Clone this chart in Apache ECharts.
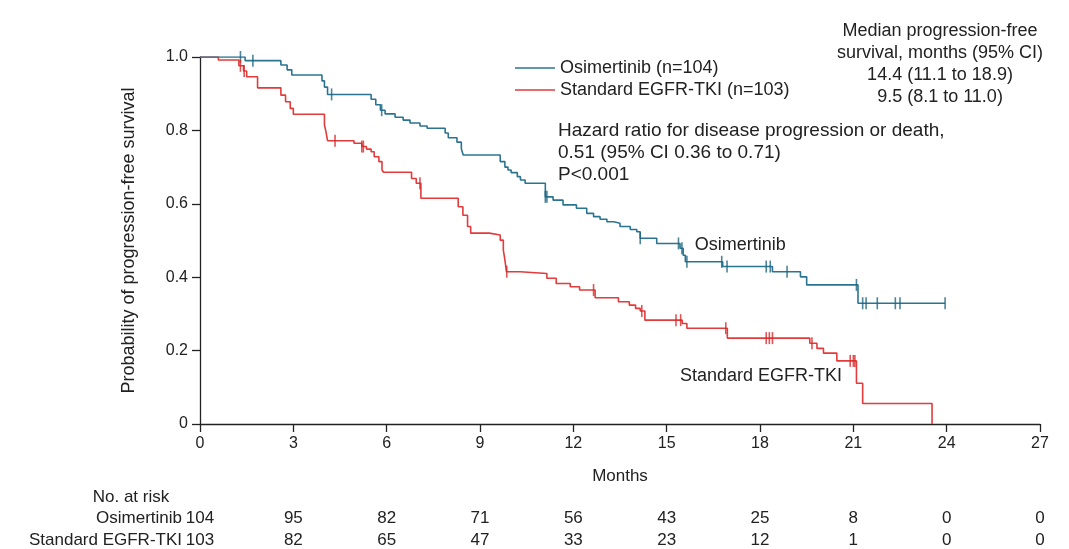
<!DOCTYPE html>
<html><head><meta charset="utf-8">
<script src="https://cdn.jsdelivr.net/npm/echarts@6/dist/echarts.min.js"></script>
<style>html,body{margin:0;padding:0;background:#fff}#c{width:1069px;height:549px}</style>
</head><body><div id="c"></div>
<script>
const xTicks = [0, 3, 6, 9, 12, 15, 18, 21, 24, 27];
const yTicks = [0, 0.2, 0.4, 0.6, 0.8, 1.0];

const osiName = 'Osimertinib (n=104)';
const stdName = 'Standard EGFR-TKI (n=103)';

const osiT = [0, 1.45, 2.6, 2.8, 2.95, 3.92, 4.0, 4.1, 5.5, 5.65, 5.8, 5.95, 6.27, 6.53, 6.75, 7.07, 7.3, 7.88, 7.98, 8.26, 8.4, 8.46,
  9.65, 9.8, 9.9, 10.0, 10.2, 10.3, 10.45, 11.1, 11.35, 11.67, 12.1, 12.43, 12.65, 12.86, 13.08, 13.3, 13.5, 13.83, 14.04, 14.15,
  14.68, 15.43, 15.53, 15.6, 16.8, 18.4, 19.3, 19.5, 21.15, 23.95];
const osiS = [1.0, 0.99, 0.978, 0.965, 0.951, 0.935, 0.918, 0.898, 0.885, 0.87, 0.855, 0.845, 0.836, 0.828, 0.82, 0.812, 0.806, 0.793, 0.78, 0.768, 0.75, 0.733,
  0.715, 0.70, 0.692, 0.685, 0.674, 0.665, 0.656, 0.619, 0.61, 0.597, 0.588, 0.574, 0.565, 0.558, 0.551, 0.547, 0.538, 0.53, 0.524, 0.506,
  0.492, 0.479, 0.46, 0.442, 0.429, 0.415, 0.401, 0.379, 0.329, 0.329];
const osiCensor = [1.3, 1.7, 4.23, 5.84, 11.1, 11.15, 14.15, 15.38, 15.49, 15.65, 16.77, 16.94, 18.2, 18.33, 18.87, 21.1, 21.3, 21.41, 21.77, 22.35, 22.5, 23.95];

const stdT = [0, 0.59, 1.25, 1.4, 1.5, 1.85, 2.6, 2.75, 2.9, 3.0, 4.0, 4.05, 4.1, 4.95, 5.2, 5.35, 5.5, 5.6, 5.75, 5.85, 5.9,
  6.8, 6.95, 7.1, 8.3, 8.45, 8.6, 8.7, 9.3, 9.65, 9.75, 9.8, 9.85, 10.29, 11.15, 11.45, 11.9, 12.2, 12.7, 13.45, 13.8, 14.0, 14.15, 14.3,
  15.5, 15.65, 16.95, 19.6, 19.83, 20.04, 20.47, 21.1, 21.3, 23.53];
const stdS = [1.0, 0.992, 0.976, 0.962, 0.946, 0.916, 0.896, 0.878, 0.86, 0.844, 0.815, 0.796, 0.772, 0.765, 0.756, 0.749, 0.742, 0.728, 0.715, 0.692, 0.686,
  0.669, 0.656, 0.615, 0.592, 0.569, 0.538, 0.52, 0.515, 0.501, 0.474, 0.447, 0.415, 0.41, 0.397, 0.383, 0.374, 0.365, 0.344, 0.333, 0.324, 0.315, 0.308, 0.283,
  0.274, 0.261, 0.234, 0.22, 0.206, 0.193, 0.172, 0.111, 0.056, 0];
const stdCensor = [1.3, 1.42, 4.34, 5.2, 5.25, 7.07, 9.86, 12.65, 14.2, 15.3, 15.45, 16.9, 18.2, 18.3, 18.4, 19.67, 20.9, 21.0, 21.05];

const riskLabels = ['Osimertinib', 'Standard EGFR-TKI'];
const osiRisk = [104, 95, 82, 71, 56, 43, 25, 8, 0, 0];
const stdRisk = [103, 82, 65, 47, 33, 23, 12, 1, 0, 0];

const medianHeader = ['Median progression-free', 'survival, months (95% CI)'];
const medianValues = ['14.4 (11.1 to 18.9)', '9.5 (8.1 to 11.0)'];
const hrText = ['Hazard ratio for disease progression or death,', '0.51 (95% CI 0.36 to 0.71)', 'P<0.001'];

const BLUE = '#2b7490';
const RED = '#e23b3b';
const FONT = 'Liberation Sans, Arial, sans-serif';
const TXT = '#222';

function survAt(T, S, t) {
  let s = S[0];
  for (let i = 0; i < T.length; i++) { if (T[i] <= t) s = S[i]; else break; }
  return s;
}
const zip = (T, S) => T.map((t, i) => [t, S[i]]);

const chart = echarts.init(document.getElementById('c'));
chart.setOption({
  animation: false,
  backgroundColor: '#fff',
  textStyle: { fontFamily: FONT },
  grid: { left: 200, right: 29, top: 57, bottom: 125 },
  legend: {
    data: [{ name: osiName, icon: 'rect' }, { name: stdName, icon: 'rect' }],
    orient: 'vertical', left: 515, top: 57, padding: 0,
    itemWidth: 40, itemHeight: 1.6, itemGap: 0,
    textStyle: { fontSize: 18, lineHeight: 22, color: TXT, fontFamily: FONT, padding: [0, 0, 0, 0] },
    selectedMode: false
  },
  xAxis: {
    type: 'value', min: 0, max: 27, interval: 3,
    name: 'Months', nameLocation: 'middle', nameGap: 44,
    nameTextStyle: { fontSize: 17, color: TXT, fontFamily: FONT },
    axisLine: { lineStyle: { color: '#222', width: 1.3 } },
    axisTick: { length: 8, lineStyle: { color: '#222', width: 1.3 } },
    axisLabel: { fontSize: 16, color: TXT, margin: 12, fontFamily: FONT },
    splitLine: { show: false }
  },
  yAxis: {
    type: 'value', min: 0, max: 1, interval: 0.2,
    name: 'Probability of progression-free survival', nameLocation: 'middle', nameGap: 62,
    nameTextStyle: { fontSize: 18, color: TXT, fontFamily: FONT },
    axisLine: { show: true, lineStyle: { color: '#222', width: 1.3 } },
    axisTick: { show: true, length: 8, lineStyle: { color: '#222', width: 1.3 } },
    axisLabel: { fontSize: 16, color: TXT, margin: 12, fontFamily: FONT,
      formatter: v => (v === 0 ? '0' : v.toFixed(1)) },
    splitLine: { show: false }
  },
  series: [
    { name: osiName, type: 'line', step: 'end', symbol: 'none', data: zip(osiT, osiS),
      lineStyle: { color: BLUE, width: 1.6 }, itemStyle: { color: BLUE }, z: 3 },
    { name: stdName, type: 'line', step: 'end', symbol: 'none', data: zip(stdT, stdS),
      lineStyle: { color: RED, width: 1.6 }, itemStyle: { color: RED }, z: 2 },
    { name: 'osiCensor', type: 'scatter', symbol: 'rect', symbolSize: [1.6, 12],
      data: osiCensor.map(t => [t, survAt(osiT, osiS, t)]), itemStyle: { color: '#1f6680' }, z: 4 },
    { name: 'stdCensor', type: 'scatter', symbol: 'rect', symbolSize: [1.6, 12],
      data: stdCensor.map(t => [t, survAt(stdT, stdS, t)]), itemStyle: { color: '#d42a2a' }, z: 4 }
  ]
});

const px = (x, y) => chart.convertToPixel({ gridIndex: 0 }, [x, y]);
const g = [];
const txt = (x, y, text, align, size) => g.push({ type: 'text', x: x, y: y,
  style: { text: text, fill: TXT, font: (size || 18) + 'px ' + FONT, align: align || 'left', verticalAlign: 'middle' } });

// median block
const medX = 940;
txt(medX, 31, medianHeader[0], 'center');
txt(medX, 53, medianHeader[1], 'center');
txt(medX, 75, medianValues[0], 'center');
txt(medX, 97, medianValues[1], 'center');
// hazard block
hrText.forEach((t, i) => txt(558, 131 + i * 22, t, 'left', 19));
// in-plot labels
const pO = px(15.9, 0.487); txt(pO[0], pO[1], 'Osimertinib', 'left');
const pS = px(15.43, 0.13); txt(pS[0], pS[1], 'Standard EGFR-TKI', 'left');
// risk table
txt(131, 497, 'No. at risk', 'center', 17);
const rows = [osiRisk, stdRisk];
rows.forEach((r, ri) => {
  const y = 518 + ri * 22;
  const p0 = px(xTicks[0], 0);
  txt(p0[0] - 18, y, riskLabels[ri], 'right', 17);
  r.forEach((v, i) => { const p = px(xTicks[i], 0); txt(p[0], y, String(v), 'center', 17); });
});
chart.setOption({ graphic: g });
</script></body></html>
